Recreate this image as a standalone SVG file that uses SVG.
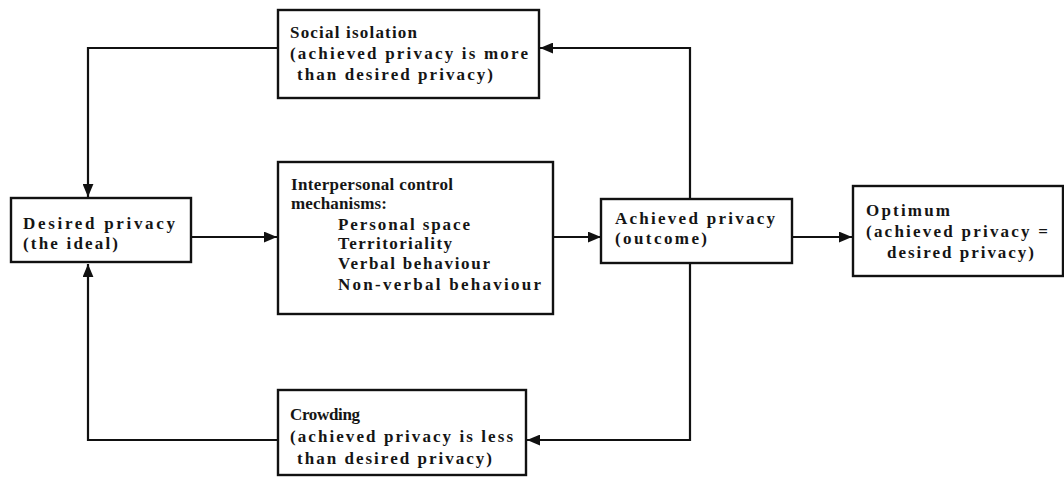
<svg xmlns="http://www.w3.org/2000/svg" width="1064" height="479" viewBox="0 0 1064 479">
  <style>
    .box { fill: #ffffff; stroke: #111111; stroke-width: 2.4; }
    .wire { fill: none; stroke: #111111; stroke-width: 2.2; }
    text { font-family: "Liberation Serif", "Times New Roman", serif; font-weight: bold; font-size: 17px; fill: #151515; }
  </style>
  <defs>
    <marker id="head" viewBox="0 0 12 10" refX="12" refY="5" markerWidth="13" markerHeight="11" markerUnits="userSpaceOnUse" orient="auto">
      <path d="M0,0 L12,5 L0,10 Z" fill="#111111"/>
    </marker>
  </defs>
  <rect width="1064" height="479" fill="#ffffff"/>

  <!-- connectors -->
  <g id="connectors">
    <!-- social isolation feeds back to desired privacy -->
    <path class="wire" d="M278,48 H88 V197" marker-end="url(#head)"/>
    <!-- crowding feeds back to desired privacy -->
    <path class="wire" d="M278,440 H88 V264" marker-end="url(#head)"/>
    <!-- forward chain -->
    <path class="wire" d="M191,237 H277" marker-end="url(#head)"/>
    <path class="wire" d="M553,237 H601" marker-end="url(#head)"/>
    <path class="wire" d="M792,237 H852" marker-end="url(#head)"/>
    <!-- outcome branches -->
    <path class="wire" d="M690,199 V48 H540" marker-end="url(#head)"/>
    <path class="wire" d="M690,263 V440 H527" marker-end="url(#head)"/>
  </g>

  <g id="social-isolation">
    <rect class="box" x="278" y="10" width="261" height="88"/>
    <text x="290" y="38" textLength="127" lengthAdjust="spacing">Social isolation</text>
    <text x="290" y="59" textLength="238" lengthAdjust="spacing">(achieved privacy is more</text>
    <text x="297" y="80" textLength="196" lengthAdjust="spacing">than desired privacy)</text>
  </g>

  <g id="desired-privacy">
    <rect class="box" x="11" y="198" width="180" height="64"/>
    <text x="23" y="229" textLength="152" lengthAdjust="spacing">Desired privacy</text>
    <text x="23" y="249" textLength="95" lengthAdjust="spacing">(the ideal)</text>
  </g>

  <g id="control-mechanisms">
    <rect class="box" x="278" y="162" width="275" height="152"/>
    <text x="291" y="190" textLength="162" lengthAdjust="spacing">Interpersonal control</text>
    <text x="291" y="209" textLength="96" lengthAdjust="spacing">mechanisms:</text>
    <text x="338" y="230" textLength="132" lengthAdjust="spacing">Personal space</text>
    <text x="338" y="249" textLength="114" lengthAdjust="spacing">Territoriality</text>
    <text x="338" y="269" textLength="152" lengthAdjust="spacing">Verbal behaviour</text>
    <text x="338" y="290" textLength="203" lengthAdjust="spacing">Non-verbal behaviour</text>
  </g>

  <g id="achieved-privacy">
    <rect class="box" x="601" y="199" width="191" height="64"/>
    <text x="615" y="224" textLength="160" lengthAdjust="spacing">Achieved privacy</text>
    <text x="615" y="244" textLength="92" lengthAdjust="spacing">(outcome)</text>
  </g>

  <g id="optimum">
    <rect class="box" x="853" y="186" width="210" height="90"/>
    <text x="866" y="216" textLength="84" lengthAdjust="spacing">Optimum</text>
    <text x="866" y="237" textLength="182" lengthAdjust="spacing">(achieved privacy =</text>
    <text x="887" y="258" textLength="147" lengthAdjust="spacing">desired privacy)</text>
  </g>

  <g id="crowding">
    <rect class="box" x="278" y="390" width="248" height="85"/>
    <text x="290" y="420" textLength="70" lengthAdjust="spacing">Crowding</text>
    <text x="290" y="442" textLength="223" lengthAdjust="spacing">(achieved privacy is less</text>
    <text x="297" y="464" textLength="195" lengthAdjust="spacing">than desired privacy)</text>
  </g>
</svg>
